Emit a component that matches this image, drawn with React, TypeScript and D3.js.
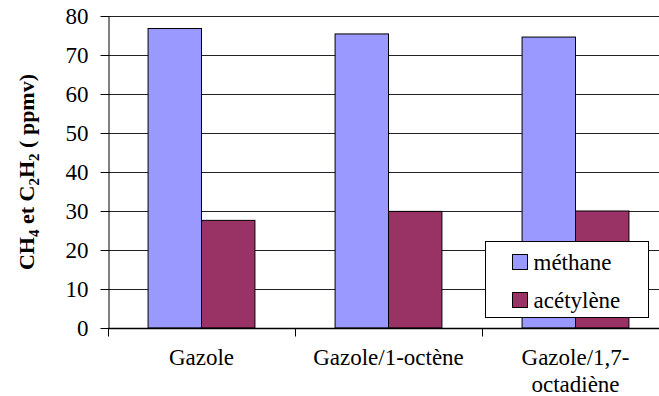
import React, { useRef, useEffect } from 'react';
import * as d3 from 'd3';

const categories: string[][] = [['Gazole'], ['Gazole/1-octène'], ['Gazole/1,7-', 'octadiène']];
const seriesNames = ['méthane', 'acétylène'];
const methane = [76.8, 75.4, 74.6];
const acetylene = [27.6, 29.9, 30.0];
const yTicks = [0, 10, 20, 30, 40, 50, 60, 70, 80];
const colors = ['#9999FF', '#993366'];

export default function App() {
  const svgRef = useRef<SVGSVGElement>(null);

  useEffect(() => {
    if (!svgRef.current) return;
    d3.select(svgRef.current).selectAll('*').remove();

    const width = 659;
    const height = 396;
    const margin = { top: 16, left: 108, bottom: 68 };
    const plotRight = 669; // plot area runs past the picture's right edge
    const font = 'Liberation Serif, Times New Roman, serif';

    const svg = d3.select(svgRef.current)
      .attr('width', width)
      .attr('height', height)
      .attr('font-family', font)
      .style('overflow', 'hidden');

    const keys = categories.map(c => c.join(' '));
    const x = d3.scaleBand().domain(keys).range([margin.left, plotRight]).padding(0);
    const xs = d3.scaleBand().domain(seriesNames).range([0, x.bandwidth()])
      .paddingInner(0).paddingOuter(0.75);
    const y = d3.scaleLinear().domain([0, 80]).range([height - margin.bottom, margin.top]);

    // Grid lines
    svg.append('g')
      .selectAll('line')
      .data(yTicks)
      .enter()
      .append('line')
      .attr('x1', margin.left)
      .attr('x2', plotRight)
      .attr('y1', d => Math.round(y(d)) + 0.5)
      .attr('y2', d => Math.round(y(d)) + 0.5)
      .attr('stroke', '#222')
      .attr('stroke-width', 1);

    // Bars
    const values = [methane, acetylene];
    seriesNames.forEach((s, si) => {
      svg.append('g')
        .selectAll('rect')
        .data(values[si])
        .enter()
        .append('rect')
        .attr('x', (d, i) => (x(keys[i]) || 0) + (xs(s) || 0))
        .attr('y', d => y(d))
        .attr('width', xs.bandwidth())
        .attr('height', d => y(0) - y(d))
        .attr('fill', colors[si])
        .attr('stroke', '#000')
        .attr('stroke-width', 1);
    });

    // Y axis
    svg.append('g')
      .attr('transform', `translate(${margin.left + 0.5},0)`)
      .call(d3.axisLeft(y).tickValues(yTicks).tickSize(8).tickPadding(12).tickSizeOuter(0))
      .attr('font-family', font)
      .attr('font-size', 23)
      .call(g => g.select('.domain').attr('stroke', '#000'))
      .call(g => g.selectAll('.tick line').attr('stroke', '#000'))
      .call(g => g.selectAll('.tick text').attr('fill', '#000'));

    // X axis line and ticks
    const xAxis = svg.append('g').attr('transform', `translate(0,${Math.round(y(0)) + 0.5})`);
    xAxis.append('line')
      .attr('x1', margin.left).attr('x2', plotRight)
      .attr('stroke', '#000').attr('stroke-width', 1.5);
    xAxis.selectAll('line.tk')
      .data([...keys.map(k => x(k) || 0), plotRight])
      .enter()
      .append('line')
      .attr('class', 'tk')
      .attr('x1', d => Math.round(d) + 0.5).attr('x2', d => Math.round(d) + 0.5)
      .attr('y1', 0).attr('y2', 8)
      .attr('stroke', '#000');

    // Category labels
    categories.forEach((lines, i) => {
      const cx = (x(keys[i]) || 0) + x.bandwidth() / 2;
      const t = svg.append('text')
        .attr('text-anchor', 'middle')
        .attr('font-size', 23)
        .attr('fill', '#000');
      lines.forEach((l, li) => {
        t.append('tspan').attr('x', cx).attr('y', 365 + li * 27).text(l);
      });
    });

    // Y title with subscripts
    const title = svg.append('text')
      .attr('transform', `translate(34,${(y(0) + y(80)) / 2}) rotate(-90)`)
      .attr('text-anchor', 'middle')
      .attr('font-size', 22)
      .attr('font-weight', 'bold')
      .attr('fill', '#000');
    const parts: [string, boolean][] = [['CH', false], ['4', true], [' et C', false], ['2', true], ['H', false], ['2', true], [' ( ppmv)', false]];
    let shifted = false;
    parts.forEach(([txt, sub]) => {
      const dy = sub ? 5 : (shifted ? -5 : 0);
      shifted = sub;
      title.append('tspan')
        .attr('dy', dy)
        .attr('font-size', sub ? 15 : 22)
        .text(txt);
    });

    // Legend
    const lg = svg.append('g').attr('transform', 'translate(485.5,241.5)');
    lg.append('rect')
      .attr('width', 163).attr('height', 76)
      .attr('fill', '#fff').attr('stroke', '#000');
    seriesNames.forEach((s, i) => {
      lg.append('rect')
        .attr('x', 27).attr('y', 13 + i * 38)
        .attr('width', 15).attr('height', 15)
        .attr('fill', colors[i]).attr('stroke', '#000');
      lg.append('text')
        .attr('x', 48).attr('y', 28 + i * 38)
        .attr('font-size', 23)
        .attr('fill', '#000')
        .text(s);
    });
  }, []);

  return (
    <div style={{ position: 'absolute', left: 0, top: 0 }}>
      <svg ref={svgRef} style={{ display: 'block' }} />
    </div>
  );
}
